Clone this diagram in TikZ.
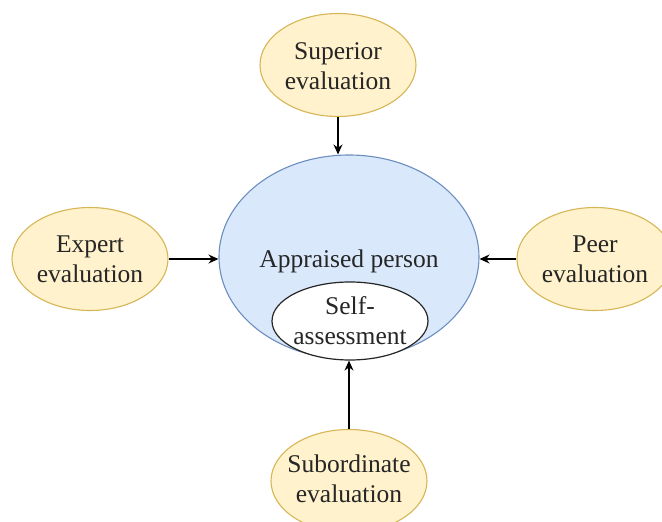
\documentclass[tikz,border=0pt]{standalone}
\usepackage{fontspec}
\setmainfont{Liberation Serif}
\usetikzlibrary{shapes.geometric,arrows.meta}
\definecolor{yfill}{HTML}{FFF2CC}
\definecolor{ydraw}{HTML}{D6B656}
\definecolor{bfill}{HTML}{DAE8FC}
\definecolor{bdraw}{HTML}{6C8EBF}
\tikzset{
  x=1pt,y=1pt,
  ybox/.style={ellipse,draw=ydraw,fill=yfill,line width=1.1pt,inner sep=0pt,minimum width=156pt,minimum height=103pt},
  lbl/.style={align=center,inner sep=0pt,text=black!85,font=\fontsize{25.5}{30}\selectfont},
  conn/.style={line width=1.3pt,-{Stealth[length=10pt,width=9pt]}}
}
\begin{document}
\begin{tikzpicture}
\useasboundingbox (0,0) rectangle (662,-522);
\node[ellipse,draw=bdraw,fill=bfill,line width=1.1pt,inner sep=0pt,minimum width=260pt,minimum height=204pt] (app) at (349,-257) {};
\node[lbl] (appt) at (349,-261) {Appraised person};
\node[ellipse,draw=black!85,fill=white,line width=1.2pt,inner sep=0pt,minimum width=156pt,minimum height=78pt] (self) at (350,-321) {};
\node[lbl] (selft) at (350,-321) {Self-\\assessment};
\node[ybox] (sup) at (338,-65) {};
\node[lbl] (supt) at (338,-66) {Superior\\evaluation};
\node[ybox] (exp) at (90,-259) {};
\node[lbl] (expt) at (90,-259) {Expert\\evaluation};
\node[ybox] (peer) at (595,-259) {};
\node[lbl] (peert) at (595,-259) {Peer\\evaluation};
\node[ybox] (sub) at (349,-481) {};
\node[lbl] (subt) at (349,-479) {Subordinate\\evaluation};
\draw[conn] (sup.south) -- (sup.south |- app.north);
\draw[conn] (exp.east) -- (exp.east -| app.west);
\draw[conn] (peer.west) -- (peer.west -| app.east);
\draw[conn] (sub.north) -- (sub.north |- self.south);
\end{tikzpicture}
\end{document}
